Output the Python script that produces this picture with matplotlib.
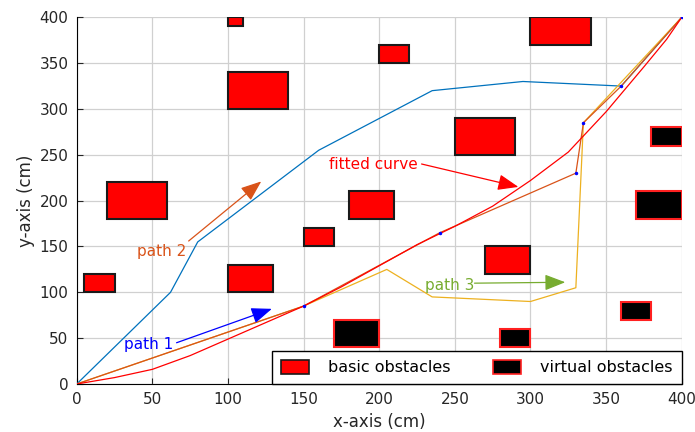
import matplotlib
matplotlib.use("Agg")
import matplotlib.pyplot as plt
from matplotlib.patches import Rectangle

# obstacles: lower-left corner, width, height (cm)
basic_x = [5, 20, 100, 100, 100, 150, 180, 200, 250, 270, 300]
basic_y = [100, 180, 100, 300, 390, 150, 180, 350, 250, 120, 370]
basic_w = [20, 40, 30, 40, 10, 20, 30, 20, 40, 30, 40]
basic_h = [20, 40, 30, 40, 10, 20, 30, 20, 40, 30, 30]

virt_x = [170, 280, 360, 370, 380]
virt_y = [40, 40, 70, 180, 260]
virt_w = [30, 20, 20, 30, 20]
virt_h = [30, 20, 20, 30, 20]

# planned paths
path1_x = [0, 150, 240, 330, 335, 360, 400]
path1_y = [0, 85, 165, 230, 285, 325, 400]
path2_x = [0, 62, 80, 160, 235, 295, 360, 400]
path2_y = [0, 100, 155, 255, 320, 330, 325, 400]
path3_x = [0, 150, 205, 235, 300, 330, 335, 400]
path3_y = [0, 85, 125, 95, 90, 105, 285, 400]

# fitted curve
fit_x = [0, 25, 50, 75, 100, 125, 150, 175, 200, 225, 250, 275, 300, 325, 350, 375, 390, 400]
fit_y = [0, 7, 16, 31, 49, 67, 85, 106, 129, 152, 172, 194, 222, 253, 297, 346, 376, 400]

# waypoints
wp_x = [150, 240, 330, 335, 360, 400]
wp_y = [85, 165, 230, 285, 325, 400]

# annotations: label, text pos, arrow tail, arrow tip, colour
notes = [
    ("fitted curve", (167, 239), (228, 240), (292, 215), "red"),
    ("path 2", (40, 145), (74, 156), (122, 221), "#D95319"),
    ("path 1", (31, 43), (66, 45), (129, 82), "blue"),
    ("path 3", (230, 108), (263, 110), (323, 111), "#77AC30"),
]

fig = plt.figure(figsize=(6.95, 4.32), dpi=100)
ax = fig.add_axes([0.1104, 0.1111, 0.8705, 0.8488])

for x, y, w, h in zip(basic_x, basic_y, basic_w, basic_h):
    ax.add_patch(Rectangle((x, y), w, h, facecolor="red", edgecolor="#1a1a1a",
                           linewidth=1.5, zorder=2))
for x, y, w, h in zip(virt_x, virt_y, virt_w, virt_h):
    ax.add_patch(Rectangle((x, y), w, h, facecolor="black", edgecolor="#ff2020",
                           linewidth=1.5, zorder=2))

ax.plot(path2_x, path2_y, color="#0072BD", lw=0.9, zorder=3)
ax.plot(path3_x, path3_y, color="#EDB120", lw=0.9, zorder=3)
ax.plot(path1_x, path1_y, color="#D95319", lw=0.9, zorder=3)
ax.plot(fit_x, fit_y, color="red", lw=0.9, zorder=3)
ax.plot(wp_x, wp_y, ".", color="blue", ms=3, zorder=4)

for label, txt, tail, tip, c in notes:
    ax.text(txt[0], txt[1], label, color=c, fontsize=11, ha="left", va="center")
    ax.annotate("", xy=tip, xytext=tail,
                arrowprops=dict(arrowstyle="-|>,head_length=0.9,head_width=0.35",
                                color=c, lw=0.9, mutation_scale=14, shrinkA=0, shrinkB=0))

ax.set_xlim(0, 400)
ax.set_ylim(0, 400)
ax.set_xticks(range(0, 401, 50))
ax.set_yticks(range(0, 401, 50))
ax.grid(True, color="#d0d0d0", lw=0.9)
ax.set_axisbelow(True)
for s in ["top", "right"]:
    ax.spines[s].set_visible(False)
ax.tick_params(direction="in", length=4, labelsize=11, colors="#262626", pad=6)
ax.set_xlabel("x-axis (cm)", fontsize=12, color="#262626", labelpad=4)
ax.set_ylabel("y-axis (cm)", fontsize=12, color="#262626", labelpad=3)

h1 = Rectangle((0, 0), 1, 1, facecolor="red", edgecolor="#1a1a1a", lw=1.2)
h2 = Rectangle((0, 0), 1, 1, facecolor="black", edgecolor="#ff2020", lw=1.2)
leg = ax.legend([h1, h2], ["basic obstacles", "virtual obstacles"], loc="lower right",
                ncol=2, fontsize=11.5, frameon=True, fancybox=False, framealpha=1,
                edgecolor="black", borderaxespad=0, handlelength=1.8, handleheight=1.0,
                handletextpad=1.2, columnspacing=2.6, borderpad=0.55)
leg.get_frame().set_linewidth(1.0)
leg.set_zorder(5)

fig.savefig("out.png", dpi=100)
